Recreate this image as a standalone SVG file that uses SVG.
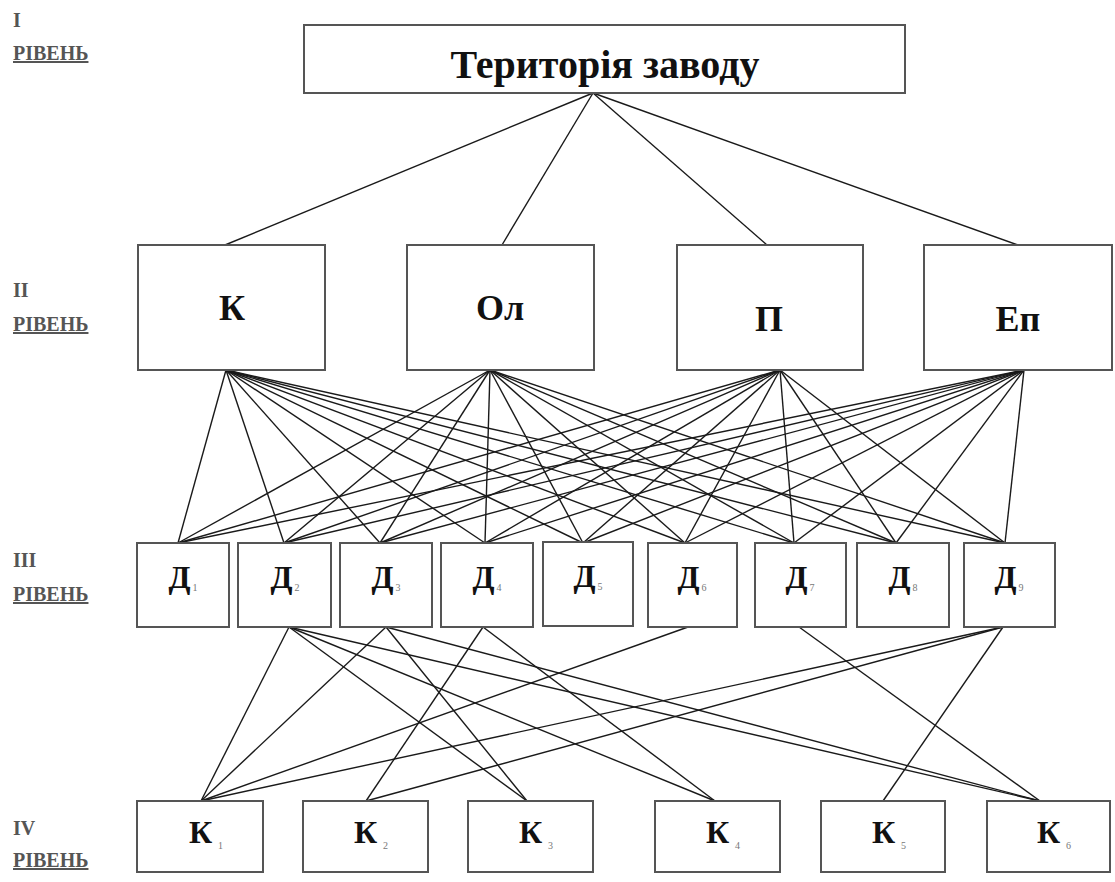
<svg xmlns="http://www.w3.org/2000/svg" width="1115" height="882" viewBox="0 0 1115 882">
<style>
.box{fill:#fff;stroke:#555;stroke-width:2}
.t{font-family:"Liberation Serif","Times New Roman",serif;font-weight:bold;fill:#111;text-anchor:middle}
.sub{font-size:10px;fill:#777;font-weight:normal}
.lvl{font-family:"Liberation Serif","Times New Roman",serif;font-weight:bold;fill:#555;font-size:20px}
.u{text-decoration:underline}
#connectors line{stroke:#1a1a1a;stroke-width:1.4}
</style>
<rect width="1115" height="882" fill="#fff"/>
<g id="levels">
<text class="lvl" x="13" y="27">I</text>
<text class="lvl u" x="13" y="60">РІВЕНЬ</text>
<text class="lvl" x="13" y="297">II</text>
<text class="lvl u" x="13" y="331">РІВЕНЬ</text>
<text class="lvl" x="13" y="567">III</text>
<text class="lvl u" x="13" y="601">РІВЕНЬ</text>
<text class="lvl" x="13" y="835">IV</text>
<text class="lvl u" x="13" y="867">РІВЕНЬ</text>
</g>
<g id="connectors">
<line x1="593" y1="93" x2="225" y2="245"/>
<line x1="593" y1="93" x2="502" y2="245"/>
<line x1="593" y1="93" x2="767" y2="245"/>
<line x1="593" y1="93" x2="1018" y2="245"/>
<g id="fromK">
<line x1="226" y1="370" x2="178" y2="543"/><line x1="226" y1="370" x2="284" y2="543"/><line x1="226" y1="370" x2="380" y2="543"/><line x1="226" y1="370" x2="485" y2="543"/><line x1="226" y1="370" x2="583" y2="543"/><line x1="226" y1="370" x2="685" y2="543"/><line x1="226" y1="370" x2="794" y2="543"/><line x1="226" y1="370" x2="896" y2="543"/><line x1="226" y1="370" x2="1005" y2="543"/>
</g>
<g id="fromOl">
<line x1="490" y1="370" x2="178" y2="543"/><line x1="490" y1="370" x2="284" y2="543"/><line x1="490" y1="370" x2="380" y2="543"/><line x1="490" y1="370" x2="485" y2="543"/><line x1="490" y1="370" x2="583" y2="543"/><line x1="490" y1="370" x2="685" y2="543"/><line x1="490" y1="370" x2="794" y2="543"/><line x1="490" y1="370" x2="896" y2="543"/><line x1="490" y1="370" x2="1005" y2="543"/>
</g>
<g id="fromP">
<line x1="780" y1="370" x2="178" y2="543"/><line x1="780" y1="370" x2="284" y2="543"/><line x1="780" y1="370" x2="380" y2="543"/><line x1="780" y1="370" x2="485" y2="543"/><line x1="780" y1="370" x2="583" y2="543"/><line x1="780" y1="370" x2="685" y2="543"/><line x1="780" y1="370" x2="794" y2="543"/><line x1="780" y1="370" x2="896" y2="543"/><line x1="780" y1="370" x2="1005" y2="543"/>
</g>
<g id="fromEp">
<line x1="1024" y1="370" x2="178" y2="543"/><line x1="1024" y1="370" x2="284" y2="543"/><line x1="1024" y1="370" x2="380" y2="543"/><line x1="1024" y1="370" x2="485" y2="543"/><line x1="1024" y1="370" x2="583" y2="543"/><line x1="1024" y1="370" x2="685" y2="543"/><line x1="1024" y1="370" x2="794" y2="543"/><line x1="1024" y1="370" x2="896" y2="543"/><line x1="1024" y1="370" x2="1005" y2="543"/>
</g>
<line x1="289" y1="627" x2="201" y2="801"/>
<line x1="289" y1="627" x2="527" y2="801"/>
<line x1="289" y1="627" x2="715" y2="801"/>
<line x1="289" y1="627" x2="1040" y2="801"/>
<line x1="386" y1="627" x2="201" y2="801"/>
<line x1="386" y1="627" x2="527" y2="801"/>
<line x1="386" y1="627" x2="1040" y2="801"/>
<line x1="483" y1="627" x2="366" y2="801"/>
<line x1="483" y1="627" x2="715" y2="801"/>
<line x1="688" y1="627" x2="201" y2="801"/>
<line x1="799" y1="627" x2="1040" y2="801"/>
<line x1="1003" y1="627" x2="201" y2="801"/>
<line x1="1003" y1="627" x2="366" y2="801"/>
<line x1="1003" y1="627" x2="883" y2="801"/>
</g>
<g id="root"><rect class="box" x="304" y="25" width="601" height="68"/><text class="t" x="605" y="78" font-size="40">Територія заводу</text></g>
<g id="K"><rect class="box" x="138" y="245" width="187" height="125"/><text class="t" x="232" y="320" font-size="36">К</text></g>
<g id="Ol"><rect class="box" x="407" y="245" width="187" height="125"/><text class="t" x="500" y="320" font-size="36">Ол</text></g>
<g id="P"><rect class="box" x="677" y="245" width="186" height="125"/><text class="t" x="769" y="331" font-size="36">П</text></g>
<g id="Ep"><rect class="box" x="924" y="245" width="188" height="125"/><text class="t" x="1018" y="331" font-size="36">Еп</text></g>
<g id="D1"><rect class="box" x="137" y="543" width="92" height="84"/><text class="t" x="183" y="588" font-size="32">Д<tspan class="sub" dx="2" dy="3">1</tspan></text></g>
<g id="D2"><rect class="box" x="238" y="543" width="93" height="84"/><text class="t" x="285" y="588" font-size="32">Д<tspan class="sub" dx="2" dy="3">2</tspan></text></g>
<g id="D3"><rect class="box" x="340" y="543" width="92" height="84"/><text class="t" x="386" y="588" font-size="32">Д<tspan class="sub" dx="2" dy="3">3</tspan></text></g>
<g id="D4"><rect class="box" x="441" y="543" width="92" height="84"/><text class="t" x="487" y="588" font-size="32">Д<tspan class="sub" dx="2" dy="3">4</tspan></text></g>
<g id="D5"><rect class="box" x="543" y="542" width="90" height="84"/><text class="t" x="588" y="587" font-size="32">Д<tspan class="sub" dx="2" dy="3">5</tspan></text></g>
<g id="D6"><rect class="box" x="648" y="543" width="89" height="84"/><text class="t" x="692" y="588" font-size="32">Д<tspan class="sub" dx="2" dy="3">6</tspan></text></g>
<g id="D7"><rect class="box" x="755" y="543" width="91" height="84"/><text class="t" x="800" y="588" font-size="32">Д<tspan class="sub" dx="2" dy="3">7</tspan></text></g>
<g id="D8"><rect class="box" x="857" y="543" width="92" height="84"/><text class="t" x="903" y="588" font-size="32">Д<tspan class="sub" dx="2" dy="3">8</tspan></text></g>
<g id="D9"><rect class="box" x="964" y="543" width="91" height="84"/><text class="t" x="1009" y="588" font-size="32">Д<tspan class="sub" dx="2" dy="3">9</tspan></text></g>
<g id="K1"><rect class="box" x="137" y="801" width="126" height="71"/><text class="t" x="206" y="843" font-size="32">К<tspan class="sub" dx="6" dy="6">1</tspan></text></g>
<g id="K2"><rect class="box" x="303" y="801" width="125" height="71"/><text class="t" x="371" y="843" font-size="32">К<tspan class="sub" dx="6" dy="6">2</tspan></text></g>
<g id="K3"><rect class="box" x="468" y="801" width="125" height="71"/><text class="t" x="536" y="843" font-size="32">К<tspan class="sub" dx="6" dy="6">3</tspan></text></g>
<g id="K4"><rect class="box" x="655" y="801" width="125" height="71"/><text class="t" x="723" y="843" font-size="32">К<tspan class="sub" dx="6" dy="6">4</tspan></text></g>
<g id="K5"><rect class="box" x="821" y="801" width="124" height="71"/><text class="t" x="889" y="843" font-size="32">К<tspan class="sub" dx="6" dy="6">5</tspan></text></g>
<g id="K6"><rect class="box" x="987" y="801" width="123" height="71"/><text class="t" x="1054" y="843" font-size="32">К<tspan class="sub" dx="6" dy="6">6</tspan></text></g>
</svg>
